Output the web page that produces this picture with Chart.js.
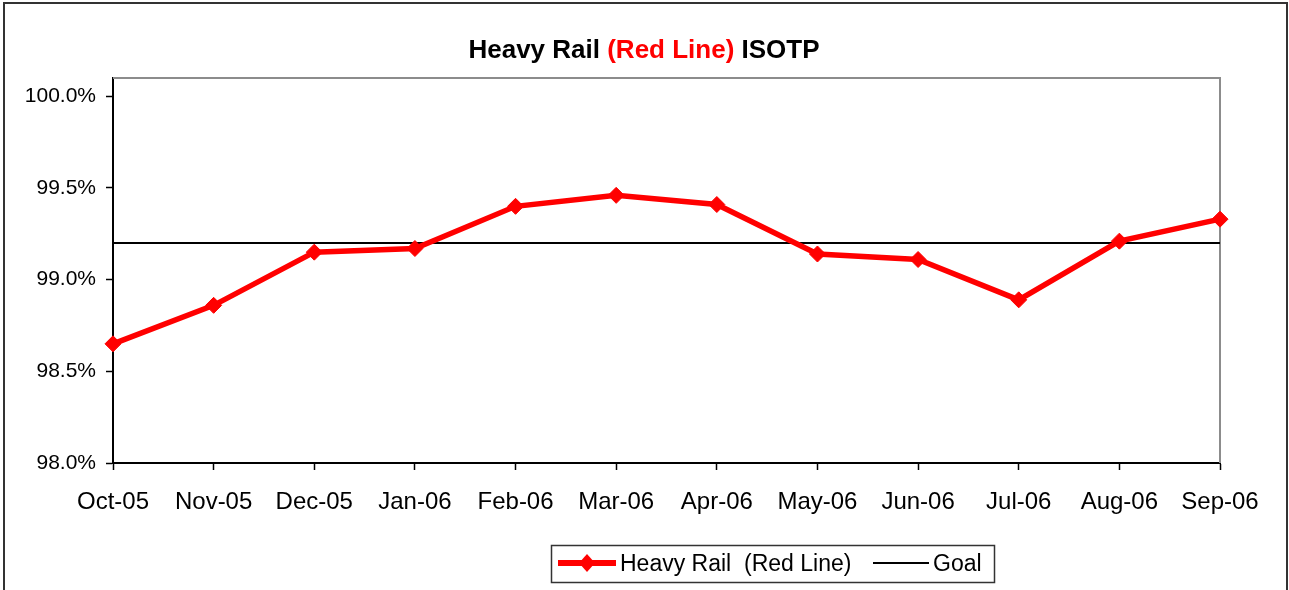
<!DOCTYPE html>
<html>
<head>
<meta charset="utf-8">
<title>Heavy Rail (Red Line) ISOTP</title>
<script src="https://cdn.jsdelivr.net/npm/chart.js@4"></script>
<style>
  html, body { margin: 0; padding: 0; background: #fff; }
  #wrap { width: 1289px; height: 590px; }
</style>
</head>
<body>
<div id="wrap"><canvas id="otpChart" width="1289" height="590"></canvas></div>
<script>
const months = ["Oct-05", "Nov-05", "Dec-05", "Jan-06", "Feb-06", "Mar-06",
                "Apr-06", "May-06", "Jun-06", "Jul-06", "Aug-06", "Sep-06"];
const redLineOtp = [98.65, 98.86, 99.15, 99.17, 99.40, 99.46, 99.41, 99.14, 99.11, 98.89, 99.21, 99.33];
const goalOtp = [99.2, 99.2, 99.2, 99.2, 99.2, 99.2, 99.2, 99.2, 99.2, 99.2, 99.2, 99.2];
const yTicks = [98.0, 98.5, 99.0, 99.5, 100.0];

const titleParts = [
  { text: "Heavy Rail ", color: "#000000" },
  { text: "(Red Line)", color: "#ff0000" },
  { text: " ISOTP", color: "#000000" }
];

const FONT = "'Liberation Sans', Arial, sans-serif";

// white page + outer frame
const frame = {
  id: "frame",
  beforeDraw(chart) {
    const ctx = chart.ctx;
    ctx.save();
    ctx.fillStyle = "#fff";
    ctx.fillRect(0, 0, chart.width, chart.height);
    ctx.strokeStyle = "#333";
    ctx.lineWidth = 2;
    ctx.strokeRect(4, 3, 1283, 620);
    ctx.restore();
  },
  // grey top and right edges of the plot area
  beforeDatasetsDraw(chart) {
    const a = chart.chartArea, ctx = chart.ctx;
    ctx.save();
    ctx.strokeStyle = "#8c8c8c";
    ctx.lineWidth = 2;
    ctx.beginPath();
    ctx.moveTo(a.left, a.top);
    ctx.lineTo(a.right, a.top);
    ctx.lineTo(a.right, a.bottom);
    ctx.stroke();
    ctx.restore();
  }
};

// two-colour title
const titlePlugin = {
  id: "twoColourTitle",
  afterDraw(chart) {
    const ctx = chart.ctx;
    ctx.save();
    ctx.font = "bold 26px " + FONT;
    ctx.textBaseline = "alphabetic";
    const total = titleParts.reduce((w, p) => w + ctx.measureText(p.text).width, 0);
    let x = 644 - total / 2;
    titleParts.forEach(p => {
      ctx.fillStyle = p.color;
      ctx.fillText(p.text, x, 58);
      x += ctx.measureText(p.text).width;
    });
    ctx.restore();
  }
};

// boxed legend under the axis
const boxLegend = {
  id: "boxLegend",
  afterDraw(chart) {
    const ctx = chart.ctx;
    const ds = chart.data.datasets;
    ctx.save();
    ctx.strokeStyle = "#333";
    ctx.lineWidth = 1.5;
    ctx.strokeRect(551.5, 545.5, 443, 37);
    const cy = 563;
    ctx.font = "23px " + FONT;
    ctx.textBaseline = "middle";

    // red series sample
    ctx.strokeStyle = ds[0].borderColor;
    ctx.lineWidth = 6;
    ctx.beginPath();
    ctx.moveTo(558, cy);
    ctx.lineTo(616, cy);
    ctx.stroke();
    ctx.fillStyle = ds[0].borderColor;
    ctx.beginPath();
    ctx.moveTo(587, cy - 9);
    ctx.lineTo(595, cy);
    ctx.lineTo(587, cy + 9);
    ctx.lineTo(579, cy);
    ctx.closePath();
    ctx.fill();
    ctx.fillStyle = "#000";
    ctx.fillText(ds[0].label, 620, cy + 2);

    // goal sample
    ctx.strokeStyle = ds[1].borderColor;
    ctx.lineWidth = 2;
    ctx.beginPath();
    ctx.moveTo(873, cy);
    ctx.lineTo(929, cy);
    ctx.stroke();
    ctx.fillText(ds[1].label, 933, cy + 2);
    ctx.restore();
  }
};

new Chart(document.getElementById("otpChart"), {
  type: "line",
  data: {
    labels: months,
    datasets: [
      {
        label: "Heavy Rail  (Red Line)",
        data: redLineOtp,
        borderColor: "#ff0000",
        backgroundColor: "#ff0000",
        borderWidth: 5.5,
        tension: 0,
        pointStyle: "rectRot",
        pointRadius: 8,
        pointBorderWidth: 1,
        pointBackgroundColor: "#ff0000",
        pointBorderColor: "#ff0000",
        clip: false
      },
      {
        label: "Goal",
        data: goalOtp,
        borderColor: "#000000",
        borderWidth: 2,
        pointRadius: 0,
        tension: 0
      }
    ]
  },
  options: {
    responsive: false,
    animation: false,
    events: [],
    layout: { padding: { top: 78, left: 0, right: 69, bottom: 0 } },
    plugins: {
      legend: { display: false },
      title: { display: false },
      tooltip: { enabled: false }
    },
    scales: {
      x: {
        type: "category",
        offset: false,
        afterFit(scale) { scale.height = 127; },
        grid: {
          display: true,
          drawOnChartArea: false,
          drawTicks: true,
          tickLength: 7,
          tickColor: "#000",
          tickWidth: 1.5
        },
        border: { display: true, color: "#000", width: 2 },
        ticks: {
          color: "#000",
          font: { family: FONT, size: 24 },
          padding: 18,
          maxRotation: 0,
          autoSkip: false
        }
      },
      y: {
        min: 98,
        max: 100.1,
        afterFit(scale) { scale.width = 113; },
        afterBuildTicks(scale) {
          scale.ticks = yTicks.map(v => ({ value: v }));
        },
        grid: {
          display: true,
          drawOnChartArea: false,
          drawTicks: true,
          tickLength: 7,
          tickColor: "#000",
          tickWidth: 1.5
        },
        border: { display: true, color: "#000", width: 2 },
        ticks: {
          color: "#000",
          font: { family: FONT, size: 21 },
          padding: 10,
          callback: v => v.toFixed(1) + "%"
        }
      }
    }
  },
  plugins: [frame, titlePlugin, boxLegend]
});
</script>
</body>
</html>
